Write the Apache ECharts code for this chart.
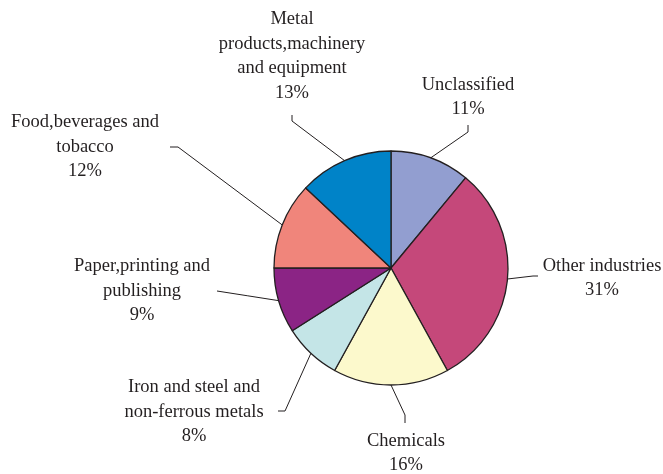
<!DOCTYPE html>
<html>
<head>
<meta charset="utf-8">
<script src="https://cdn.jsdelivr.net/npm/echarts@6/dist/echarts.min.js"></script>
<style>html,body{margin:0;padding:0;background:#fff;}#c{width:663px;height:474px;}</style>
</head>
<body>
<div id="c"></div>
<script>
const categories = ['Unclassified','Other industries','Chemicals','Iron and steel and non-ferrous metals','Paper,printing and publishing','Food,beverages and tobacco','Metal products,machinery and equipment'];
const labelText = ['Unclassified','Other industries','Chemicals','Iron and steel and\nnon-ferrous metals','Paper,printing and\npublishing','Food,beverages and\ntobacco','Metal\nproducts,machinery\nand equipment'];
const values = [11,31,16,8,9,12,13];
const colors = ['#929ED0','#C5487A','#FCF9CC','#C4E5E7','#8B2485','#F0857B','#0083C8'];

// label placement (block centre) and leader line elbow/end, in pixels
const labelPos = [[468,97],[602,278],[406,453],[194,412],[142,291],[85,147],[292,56]];
const linePts = [
  [[468,132],[468,125]],
  [[533,276],[538,276]],
  [[405,415],[405,423]],
  [[285,411],[278,411]],
  [null,[217,291]],
  [[178,147],[170,147]],
  [[292,121],[292,115]]
];

const chart = echarts.init(document.getElementById('c'), null, {renderer:'canvas'});
chart.setOption({
  animation:false,
  series:[{
    type:'pie',
    center:[391,268],
    radius:117,
    startAngle:90,
    clockwise:true,
    avoidLabelOverlap:false,
    data: categories.map((n,i)=>({name:n,value:values[i],itemStyle:{color:colors[i]}})),
    itemStyle:{borderColor:'#231F20',borderWidth:1.3},
    label:{
      show:true,
      position:'outside',
      formatter:(p)=>labelText[p.dataIndex]+'\n'+p.value+'%',
      fontFamily:'Liberation Serif',
      fontSize:18.5,
      lineHeight:24.5,
      color:'#231F20',
      align:'center'
    },
    labelLine:{show:true,length:15,length2:10,lineStyle:{color:'#231F20',width:1}},
    emphasis:{disabled:true},
    labelLayout:function(params){
      const i = params.dataIndex;
      const p0 = params.labelLinePoints ? params.labelLinePoints[0] : null;
      const res = {x:labelPos[i][0], y:labelPos[i][1], align:'center', verticalAlign:'middle'};
      if(p0){
        const end = linePts[i][1];
        const mid = linePts[i][0] || [(p0[0]+end[0])/2,(p0[1]+end[1])/2];
        res.labelLinePoints = [p0, mid, end];
      }
      return res;
    }
  }]
});
</script>
</body>
</html>
